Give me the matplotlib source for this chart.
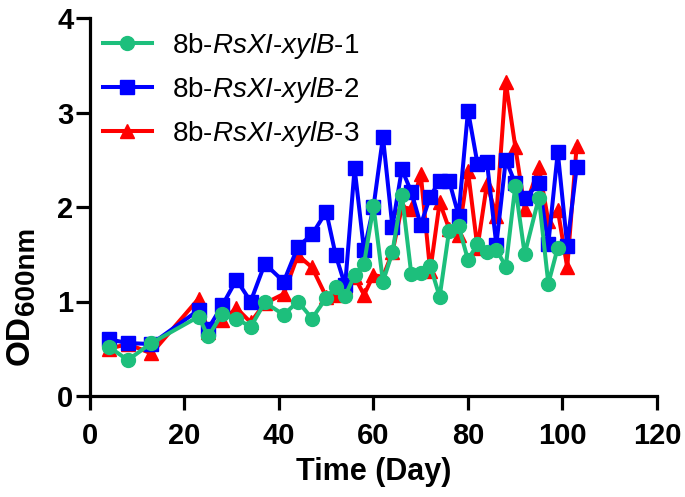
import matplotlib
matplotlib.use("Agg")
import matplotlib.pyplot as plt

plt.rcParams['font.family'] = ['Liberation Sans', 'DejaVu Sans']
plt.rcParams['mathtext.fontset'] = 'custom'
plt.rcParams['mathtext.rm'] = 'Liberation Sans'
plt.rcParams['mathtext.it'] = 'Liberation Sans:italic'
plt.rcParams['mathtext.bf'] = 'Liberation Sans:bold'

days_g = [4, 8, 13, 23, 25, 28, 31, 34, 37, 41, 44, 47, 50, 52, 54, 56, 58, 60, 62, 64, 66,
          68, 70, 72, 74, 76, 78, 80, 82, 84, 86, 88, 90, 92, 95, 97, 99]
od_g = [0.52, 0.38, 0.56, 0.84, 0.63, 0.87, 0.82, 0.73, 0.99, 0.86, 1.00, 0.82, 1.04, 1.15,
        1.06, 1.28, 1.40, 2.01, 1.21, 1.52, 2.13, 1.29, 1.30, 1.38, 1.05, 1.75, 1.80, 1.44,
        1.61, 1.52, 1.55, 1.37, 2.22, 1.50, 2.10, 1.19, 1.57]

days_b = [4, 8, 13, 23, 25, 28, 31, 34, 37, 41, 44, 47, 50, 52, 54, 56, 58, 60, 62, 64, 66,
          68, 70, 72, 74, 76, 78, 80, 82, 84, 86, 88, 90, 92, 95, 97, 99, 101, 103]
od_b = [0.60, 0.56, 0.55, 0.91, 0.71, 0.96, 1.23, 1.00, 1.40, 1.21, 1.58, 1.71, 1.95, 1.49,
        1.17, 2.41, 1.54, 2.00, 2.74, 1.79, 2.40, 2.16, 1.81, 2.11, 2.28, 2.28, 1.91, 3.02,
        2.46, 2.48, 1.60, 2.50, 2.25, 2.09, 2.25, 1.61, 2.58, 1.59, 2.42]

days_r = [4, 8, 13, 23, 25, 28, 31, 34, 37, 41, 44, 47, 50, 52, 54, 56, 58, 60, 62, 64, 66,
          68, 70, 72, 74, 76, 78, 80, 82, 84, 86, 88, 90, 92, 95, 97, 99, 101, 103]
od_r = [0.50, 0.55, 0.45, 1.03, 0.68, 0.80, 0.93, 0.78, 0.98, 1.08, 1.49, 1.36, 1.05, 1.07,
        1.15, 1.26, 1.07, 1.28, 1.26, 1.52, 2.00, 1.98, 2.35, 1.32, 2.05, 1.77, 1.70, 2.38,
        1.57, 2.24, 1.91, 3.32, 2.64, 1.98, 2.42, 1.85, 1.97, 1.36, 2.65]

labels = [r"8b-$\it{RsXI}$-$\it{xylB}$-1", r"8b-$\it{RsXI}$-$\it{xylB}$-2",
          r"8b-$\it{RsXI}$-$\it{xylB}$-3"]
xticks = [0, 20, 40, 60, 80, 100, 120]
yticks = [0, 1, 2, 3, 4]

c_g = '#1dbf7c'
c_b = '#0000ff'
c_r = '#ff0000'

W, H = 685, 497
fig = plt.figure(figsize=(W / 100, H / 100), dpi=100)
ax = fig.add_axes([90 / W, 1 - 396 / H, (657 - 90) / W, (396 - 18) / H])

lw = 2.9
ms = 9.5
hr, = ax.plot(days_r, od_r, color=c_r, marker='^', ms=ms + 1, lw=lw, zorder=2, label=labels[2],
              clip_on=False)
hb, = ax.plot(days_b, od_b, color=c_b, marker='s', ms=ms, lw=lw, zorder=3, label=labels[1],
              clip_on=False)
hg, = ax.plot(days_g, od_g, color=c_g, marker='o', ms=ms + 0.5, lw=lw, zorder=4, label=labels[0],
              clip_on=False)

ax.set_xlim(0, 120)
ax.set_ylim(0, 4)
ax.set_xticks(xticks)
ax.set_yticks(yticks)
for s in ['top', 'right']:
    ax.spines[s].set_visible(False)
for s in ['left', 'bottom']:
    ax.spines[s].set_linewidth(2.3)
ax.tick_params(width=2.3, length=10, labelsize=21, direction='out')
ax.tick_params(axis='x', pad=9)
ax.tick_params(axis='y', pad=2)
for t in ax.get_xticklabels() + ax.get_yticklabels():
    t.set_fontweight('bold')

ax.set_xlabel('Time (Day)', fontsize=22, fontweight='bold', labelpad=5)

# y label: "OD" with a large subscript "600nm"
fig.text(20.5 / W, 1 - 365 / H, 'OD', rotation=90, fontsize=24, fontweight='bold',
         ha='center', va='bottom')
fig.text(27 / W, 1 - 315 / H, '600nm', rotation=90, fontsize=20, fontweight='bold',
         ha='center', va='bottom')

leg = ax.legend(handles=[hg, hb, hr], loc='upper left', frameon=False, fontsize=20,
                handlelength=1.75, handletextpad=0.72, labelspacing=0.5,
                borderpad=0, borderaxespad=0,
                bbox_to_anchor=(103 / W, 1 - 31 / H), bbox_transform=fig.transFigure)

fig.savefig('out.png', dpi=100)
